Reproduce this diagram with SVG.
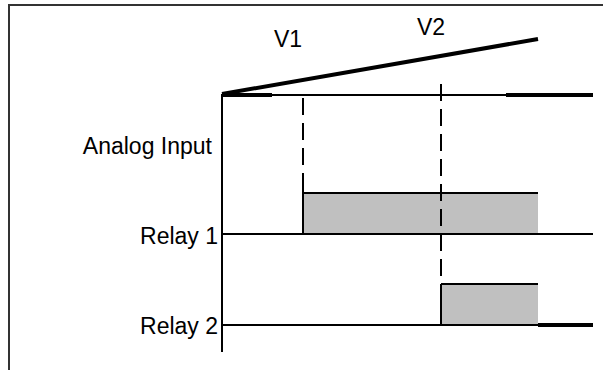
<svg xmlns="http://www.w3.org/2000/svg" width="603" height="370" viewBox="0 0 603 370">
  <style>
    .lbl { font-family: "Liberation Sans", Arial, sans-serif; font-size: 23px; fill: #000; }
    .thin { stroke: #000; stroke-width: 2; fill: none; }
    .thick { stroke: #000; stroke-width: 4; fill: none; }
    .dash { stroke: #000; stroke-width: 2; fill: none; stroke-dasharray: 17 8; }
    .on { fill: #c0c0c0; stroke: none; }
  </style>
  <rect width="603" height="370" fill="#fff"/>

  <!-- frame -->
  <g id="frame">
    <path d="M9 370 V5 H603" stroke="#333" stroke-width="2" fill="none"/>
  </g>

  <!-- relay on-periods -->
  <g id="relay1-on">
    <rect class="on" x="303" y="193" width="235" height="41"/>
    <path class="thin" d="M303 175 V234 M303 193 H538"/>
  </g>
  <g id="relay2-on">
    <rect class="on" x="441" y="284" width="97" height="41"/>
    <path class="thin" d="M441 284 H538"/>
  </g>

  <!-- axes and traces -->
  <g id="connectors">
    <path class="thin" d="M222 94 V352"/>
    <path class="thin" d="M222 95 H593"/>
    <path class="thick" d="M222 95 H272 M506 95 H593"/>
    <path class="thick" d="M222 94 L538 39"/>
    <path class="thin" d="M222 234 H593"/>
    <path class="thin" d="M222 325 H538"/>
    <path class="thick" d="M538 325 H593"/>
    <path class="dash" d="M303 97 V175" stroke-dashoffset="-1"/>
    <path class="dash" d="M441 84 V284"/>
    <path class="thin" d="M441 284 V325"/>
  </g>

  <!-- labels -->
  <g id="labels">
    <text class="lbl" x="288" y="47" text-anchor="middle">V1</text>
    <text class="lbl" x="431" y="35" text-anchor="middle">V2</text>
    <text class="lbl" x="212" y="154" text-anchor="end">Analog Input</text>
    <text class="lbl" x="218" y="244" text-anchor="end">Relay 1</text>
    <text class="lbl" x="218" y="334" text-anchor="end">Relay 2</text>
  </g>
</svg>
